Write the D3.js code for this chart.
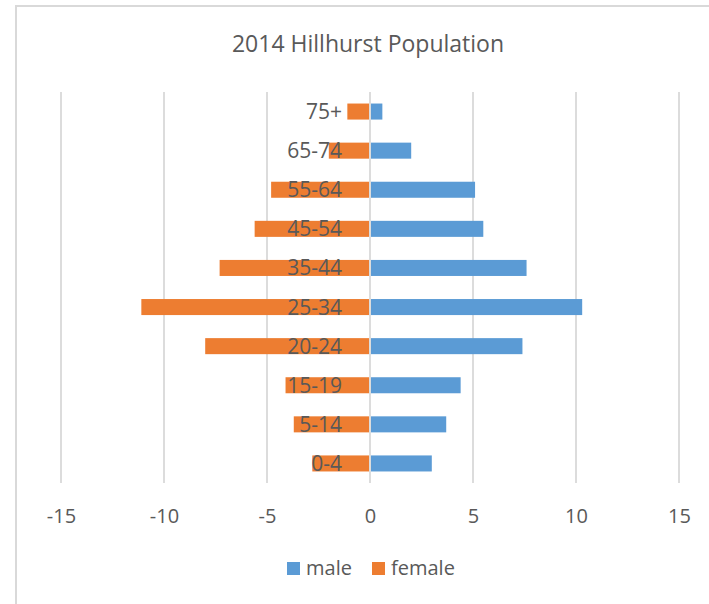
<!DOCTYPE html>
<html>
<head>
<meta charset="utf-8">
<script src="https://cdn.jsdelivr.net/npm/d3@7"></script>
<style>
  html, body { margin: 0; padding: 0; background: #fff; }
  svg { display: block; }
  text { font-family: "Open Sans", sans-serif; fill: #595959; }
</style>
</head>
<body>
<svg id="chart" width="709" height="604"></svg>
<script>
const title = "2014 Hillhurst Population";
const categories = ["0-4", "5-14", "15-19", "20-24", "25-34", "35-44", "45-54", "55-64", "65-74", "75+"];
const male =   [3.0, 3.7, 4.4, 7.4, 10.3, 7.6, 5.5, 5.1, 2.0, 0.6];
const female = [-2.8, -3.7, -4.1, -8.0, -11.1, -7.3, -5.6, -4.8, -2.0, -1.1];
const tickValues = [-15, -10, -5, 0, 5, 10, 15];
const tickLabels = ["-15", "-10", "-5", "0", "5", "10", "15"];
const seriesNames = ["male", "female"];
const seriesColors = ["#5B9BD5", "#ED7D31"];

const svg = d3.select("#chart");

// chart border
svg.append("rect")
  .attr("x", 16).attr("y", 6)
  .attr("width", 720).attr("height", 620)
  .attr("fill", "none").attr("stroke", "#d9d9d9").attr("stroke-width", 2);

const plot = { left: 61, right: 679, top: 92, bottom: 483 };

const x = d3.scaleLinear().domain([-15, 15]).range([plot.left, plot.right]);
const y = d3.scaleBand()
  .domain(categories.slice().reverse())
  .range([plot.top, plot.bottom])
  .paddingInner(0.59).paddingOuter(0.295);

// gridlines
svg.append("g").selectAll("line")
  .data(tickValues)
  .join("line")
  .attr("x1", d => x(d)).attr("x2", d => x(d))
  .attr("y1", plot.top).attr("y2", plot.bottom)
  .attr("stroke", "#d9d9d9").attr("stroke-width", 1.8);

// bars
const rows = categories.map((c, i) => ({ c, m: male[i], f: female[i] }));
svg.append("g").selectAll("rect")
  .data(rows)
  .join("rect")
  .attr("x", d => x(0) + 1)
  .attr("y", d => y(d.c))
  .attr("width", d => x(d.m) - x(0) - 1)
  .attr("height", y.bandwidth())
  .attr("fill", seriesColors[0]);

svg.append("g").selectAll("rect")
  .data(rows)
  .join("rect")
  .attr("x", d => x(d.f))
  .attr("y", d => y(d.c))
  .attr("width", d => x(0) - 1 - x(d.f))
  .attr("height", y.bandwidth())
  .attr("fill", seriesColors[1]);

// category labels (drawn over bars, right-aligned left of zero)
svg.append("g").selectAll("text")
  .data(categories)
  .join("text")
  .attr("x", x(0) - 28)
  .attr("y", d => y(d) + y.bandwidth() / 2 + 7.5)
  .attr("text-anchor", "end")
  .attr("font-size", 21)
  .text(d => d);

// x axis tick labels
const xAxis = d3.axisBottom(x).tickValues(tickValues).tickSize(0).tickPadding(0)
  .tickFormat((d, i) => tickLabels[i]);
const gx = svg.append("g").attr("transform", `translate(0, 523)`).call(xAxis);
gx.select(".domain").remove();
gx.selectAll("text")
  .attr("y", 0).attr("dy", 0)
  .attr("font-size", 20)
  .attr("font-family", "Open Sans, sans-serif")
  .style("fill", "#595959");

// title
svg.append("text")
  .attr("x", 368).attr("y", 52)
  .attr("text-anchor", "middle")
  .attr("font-size", 23)
  .text(title);

// legend
const legendItems = [
  { name: seriesNames[0], color: seriesColors[0], x: 287 },
  { name: seriesNames[1], color: seriesColors[1], x: 372 }
];
const lg = svg.append("g").selectAll("g").data(legendItems).join("g")
  .attr("transform", d => `translate(${d.x}, 562)`);
lg.append("rect").attr("width", 13).attr("height", 13).attr("fill", d => d.color);
lg.append("text").attr("x", 19).attr("y", 13).attr("font-size", 20).text(d => d.name);
</script>
</body>
</html>
